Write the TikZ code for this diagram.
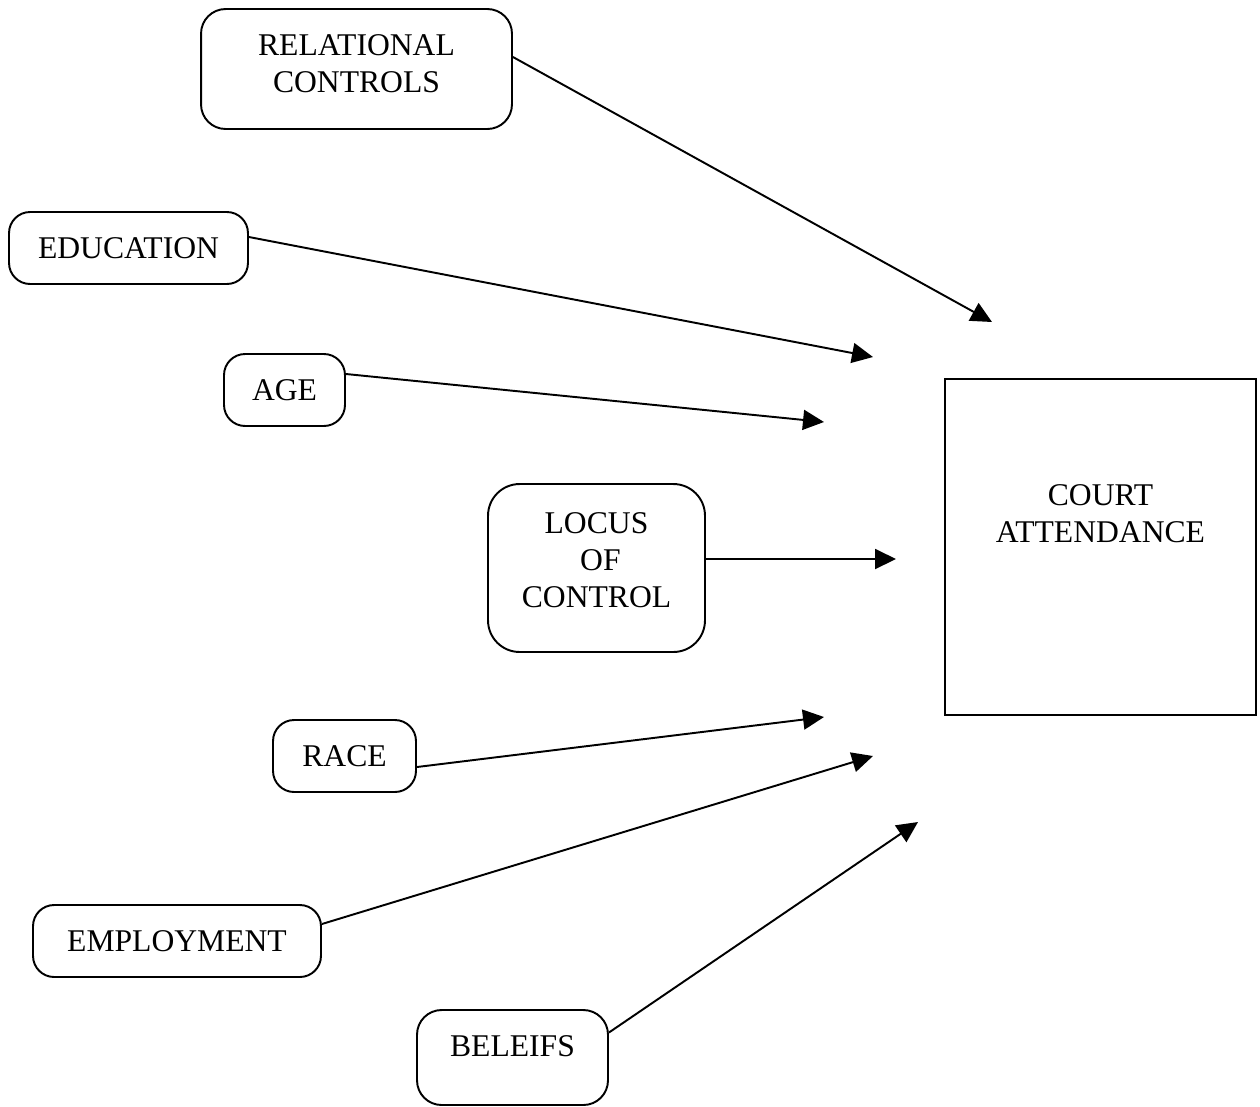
\documentclass[tikz,border=0pt]{standalone}
\usepackage{fontspec}
\setmainfont{Liberation Serif}
\usetikzlibrary{arrows.meta,calc}

\begin{document}
\begin{tikzpicture}[
  x=0.02cm, y=-0.02cm,
  factor/.style={rectangle, draw, line width=1.1pt, rounded corners=12pt, align=center, font=\fontsize{18}{21}\selectfont, inner sep=0pt},
  outcome/.style={rectangle, draw, line width=1.1pt, minimum width=6.22cm, minimum height=6.72cm},
  label/.style={align=center, font=\fontsize{18}{21}\selectfont, inner sep=0pt},
  link/.style={line width=1.1pt, -{Triangle[length=0.42cm,width=0.4cm]}},
]
\useasboundingbox (0,0) rectangle (1260,1106);

% Factors
\node[factor, minimum width=6.22cm, minimum height=2.4cm, rounded corners=14pt] (rel) at (356.5,69) {};
\node[label] (reltext) at (356.5,64) {RELATIONAL\\CONTROLS};
\node[factor, minimum width=4.78cm, minimum height=1.44cm] (edu) at (128.5,248) {EDUCATION};
\node[factor, minimum width=2.42cm, minimum height=1.44cm] (age) at (284.5,390) {AGE};
\node[factor, minimum width=4.34cm, minimum height=3.36cm, rounded corners=18pt] (loc) at (596.5,568) {};
\node[label] (loctext) at (596.5,560) {LOCUS\\\ OF\\CONTROL};
\node[factor, minimum width=2.86cm, minimum height=1.44cm] (race) at (344.5,756) {RACE};
\node[factor, minimum width=5.76cm, minimum height=1.44cm] (emp) at (177,941) {EMPLOYMENT};
\node[factor, minimum width=3.82cm, minimum height=1.90cm, rounded corners=14pt] (bel) at (512.5,1057.5) {};
\node[label] (beltext) at (512.5,1046) {BELEIFS};

% Outcome
\node[outcome] (court) at (1100.5,547) {};
\node[label] (courttext) at (1100.5,514) {COURT\\ATTENDANCE};

% Arrow ends
\coordinate (t1) at (992,322);
\coordinate (t2) at (873,357);
\coordinate (t3) at (824,422);
\coordinate (t4) at (896,559);
\coordinate (t5) at (824,717);
\coordinate (t6) at (873,756);
\coordinate (t7) at (918,822);

% Arrows
\draw[link] ($(rel.east)+(0,-12)$) -- (t1);
\draw[link] ($(edu.east)+(0,-11)$) -- (t2);
\draw[link] ($(age.east)+(0,-16)$) -- (t3);
\draw[link] ($(loc.east)+(0,-9)$) -- (t4);
\draw[link] ($(race.east)+(0,11)$) -- (t5);
\draw[link] ($(emp.east)+(0,-17)$) -- (t6);
\draw[link] ($(bel.east)+(0,-25)$) -- (t7);
\end{tikzpicture}
\end{document}
